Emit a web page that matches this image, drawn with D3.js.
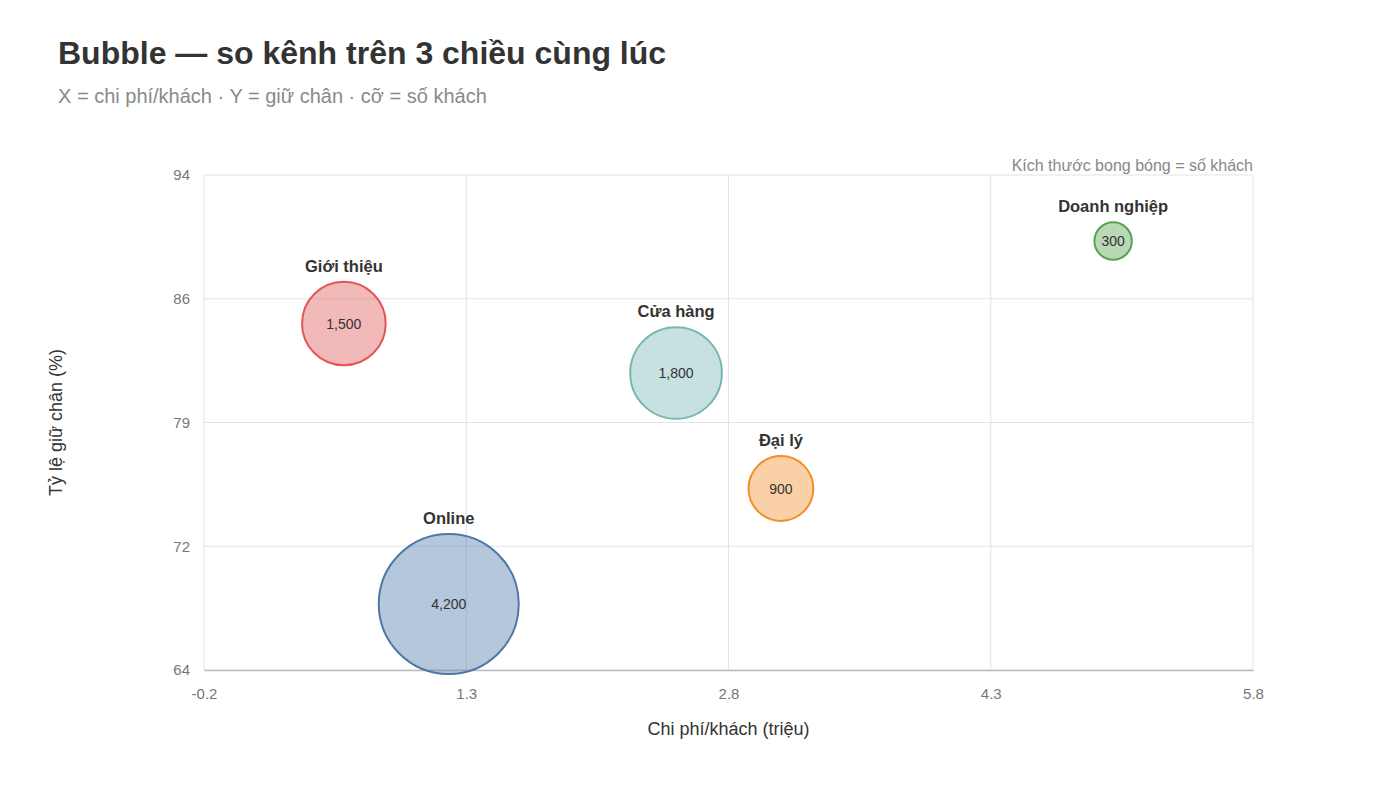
<!DOCTYPE html>
<html lang="vi">
  <head>
    <meta charset="utf-8">
    <title>Bubble</title>
    <script src="https://d3js.org/d3.v7.min.js"></script>
    <style>
      body { margin: 0; background: #fff; font-family: "Liberation Sans", Arial, sans-serif; }
    </style>
  </head>
  <body>
    <div id="chart"></div>
    <script>
      // data
      var channels = ["Giới thiệu", "Online", "Cửa hàng", "Đại lý", "Doanh nghiệp"];
      var costs = [0.6, 1.2, 2.5, 3.1, 5.0];          // chi phí/khách (triệu)
      var retention = [85, 68, 82, 75, 90];           // tỷ lệ giữ chân (%)
      var customers = [1500, 4200, 1800, 900, 300];   // số khách
      var colors = ["#e15759", "#4e79a7", "#76b7b2", "#f28e2b", "#59a14f"];
      var xTicks = [-0.2, 1.3, 2.8, 4.3, 5.8];
      var xTickLabels = ["-0.2", "1.3", "2.8", "4.3", "5.8"];
      var yTicks = [64, 71.5, 79, 86.5, 94];
      var yTickLabels = ["64", "72", "79", "86", "94"];

      var W = 1400, H = 787;
      var margin = {top: 175, right: 147, bottom: 117, left: 204};
      var width = W - margin.left - margin.right,
          height = H - margin.top - margin.bottom;

      var svg = d3.select("#chart").append("svg")
        .attr("width", W)
        .attr("height", H);

      // title
      svg.append("text")
        .attr("x", 58).attr("y", 64)
        .text("Bubble — so kênh trên 3 chiều cùng lúc")
        .style("font-size", "32px").style("font-weight", "bold").style("fill", "#333");
      svg.append("text")
        .attr("x", 58).attr("y", 103)
        .text("X = chi phí/khách · Y = giữ chân · cỡ = số khách")
        .style("font-size", "20px").style("fill", "#8a8a8a");

      var g = svg.append("g")
        .attr("transform", "translate(" + margin.left + "," + margin.top + ")");

      var x = d3.scaleLinear().domain([-0.2, 5.8]).range([0, width]);
      var y = d3.scaleLinear().domain([64, 94]).range([height, 0]);
      var r = d3.scaleSqrt().domain([0, 4200]).range([0, 70]);

      // grid
      g.selectAll(".vgrid").data(xTicks).enter().append("line")
        .attr("x1", function(d) { return x(d); }).attr("x2", function(d) { return x(d); })
        .attr("y1", 0).attr("y2", height)
        .style("stroke", "#e3e3e3").style("stroke-width", 1);
      g.selectAll(".hgrid").data(yTicks).enter().append("line")
        .attr("x1", 0).attr("x2", width)
        .attr("y1", function(d) { return y(d); }).attr("y2", function(d) { return y(d); })
        .style("stroke", "#e3e3e3").style("stroke-width", 1);

      // axes
      var xAxis = g.append("g")
        .attr("transform", "translate(0," + height + ")")
        .call(d3.axisBottom(x).tickValues(xTicks).tickSize(0).tickPadding(18)
          .tickFormat(function(d, i) { return xTickLabels[i]; }));
      xAxis.select(".domain").style("stroke", "#bdbdbd").style("stroke-width", 1.5);
      xAxis.selectAll("text").style("font-size", "15px").style("fill", "#777")
        .style("font-family", "Liberation Sans, Arial, sans-serif");

      var yAxis = g.append("g")
        .call(d3.axisLeft(y).tickValues(yTicks).tickSize(0).tickPadding(14)
          .tickFormat(function(d, i) { return yTickLabels[i]; }));
      yAxis.select(".domain").remove();
      yAxis.selectAll("text").style("font-size", "15px").style("fill", "#777")
        .style("font-family", "Liberation Sans, Arial, sans-serif");

      // axis titles
      svg.append("text")
        .attr("text-anchor", "middle")
        .attr("x", margin.left + width / 2).attr("y", 735)
        .text("Chi phí/khách (triệu)")
        .style("font-size", "18px").style("fill", "#333");
      svg.append("text")
        .attr("text-anchor", "middle")
        .attr("transform", "translate(62," + (margin.top + height / 2) + ") rotate(-90)")
        .text("Tỷ lệ giữ chân (%)")
        .style("font-size", "18px").style("fill", "#333");

      // size note
      svg.append("text")
        .attr("text-anchor", "end")
        .attr("x", margin.left + width).attr("y", 171)
        .text("Kích thước bong bóng = số khách")
        .style("font-size", "16px").style("fill", "#888");

      var data = channels.map(function(c, i) {
        return {name: c, cost: costs[i], ret: retention[i], n: customers[i], color: colors[i]};
      });

      var b = g.selectAll(".bubble").data(data).enter().append("g");

      b.append("circle")
        .attr("cx", function(d) { return x(d.cost); })
        .attr("cy", function(d) { return y(d.ret); })
        .attr("r", function(d) { return r(d.n); })
        .style("fill", function(d) { return d.color; })
        .style("fill-opacity", 0.42)
        .style("stroke", function(d) { return d.color; })
        .style("stroke-width", 2);

      b.append("text")
        .attr("text-anchor", "middle")
        .attr("x", function(d) { return x(d.cost); })
        .attr("y", function(d) { return y(d.ret) + 5; })
        .text(function(d) { return d3.format(",")(d.n); })
        .style("font-size", "14px").style("fill", "#333");

      b.append("text")
        .attr("text-anchor", "middle")
        .attr("x", function(d) { return x(d.cost); })
        .attr("y", function(d) { return y(d.ret) - r(d.n) - 10; })
        .text(function(d) { return d.name; })
        .style("font-size", "16.5px").style("font-weight", "bold").style("fill", "#333");
    </script>
  </body>
</html>
